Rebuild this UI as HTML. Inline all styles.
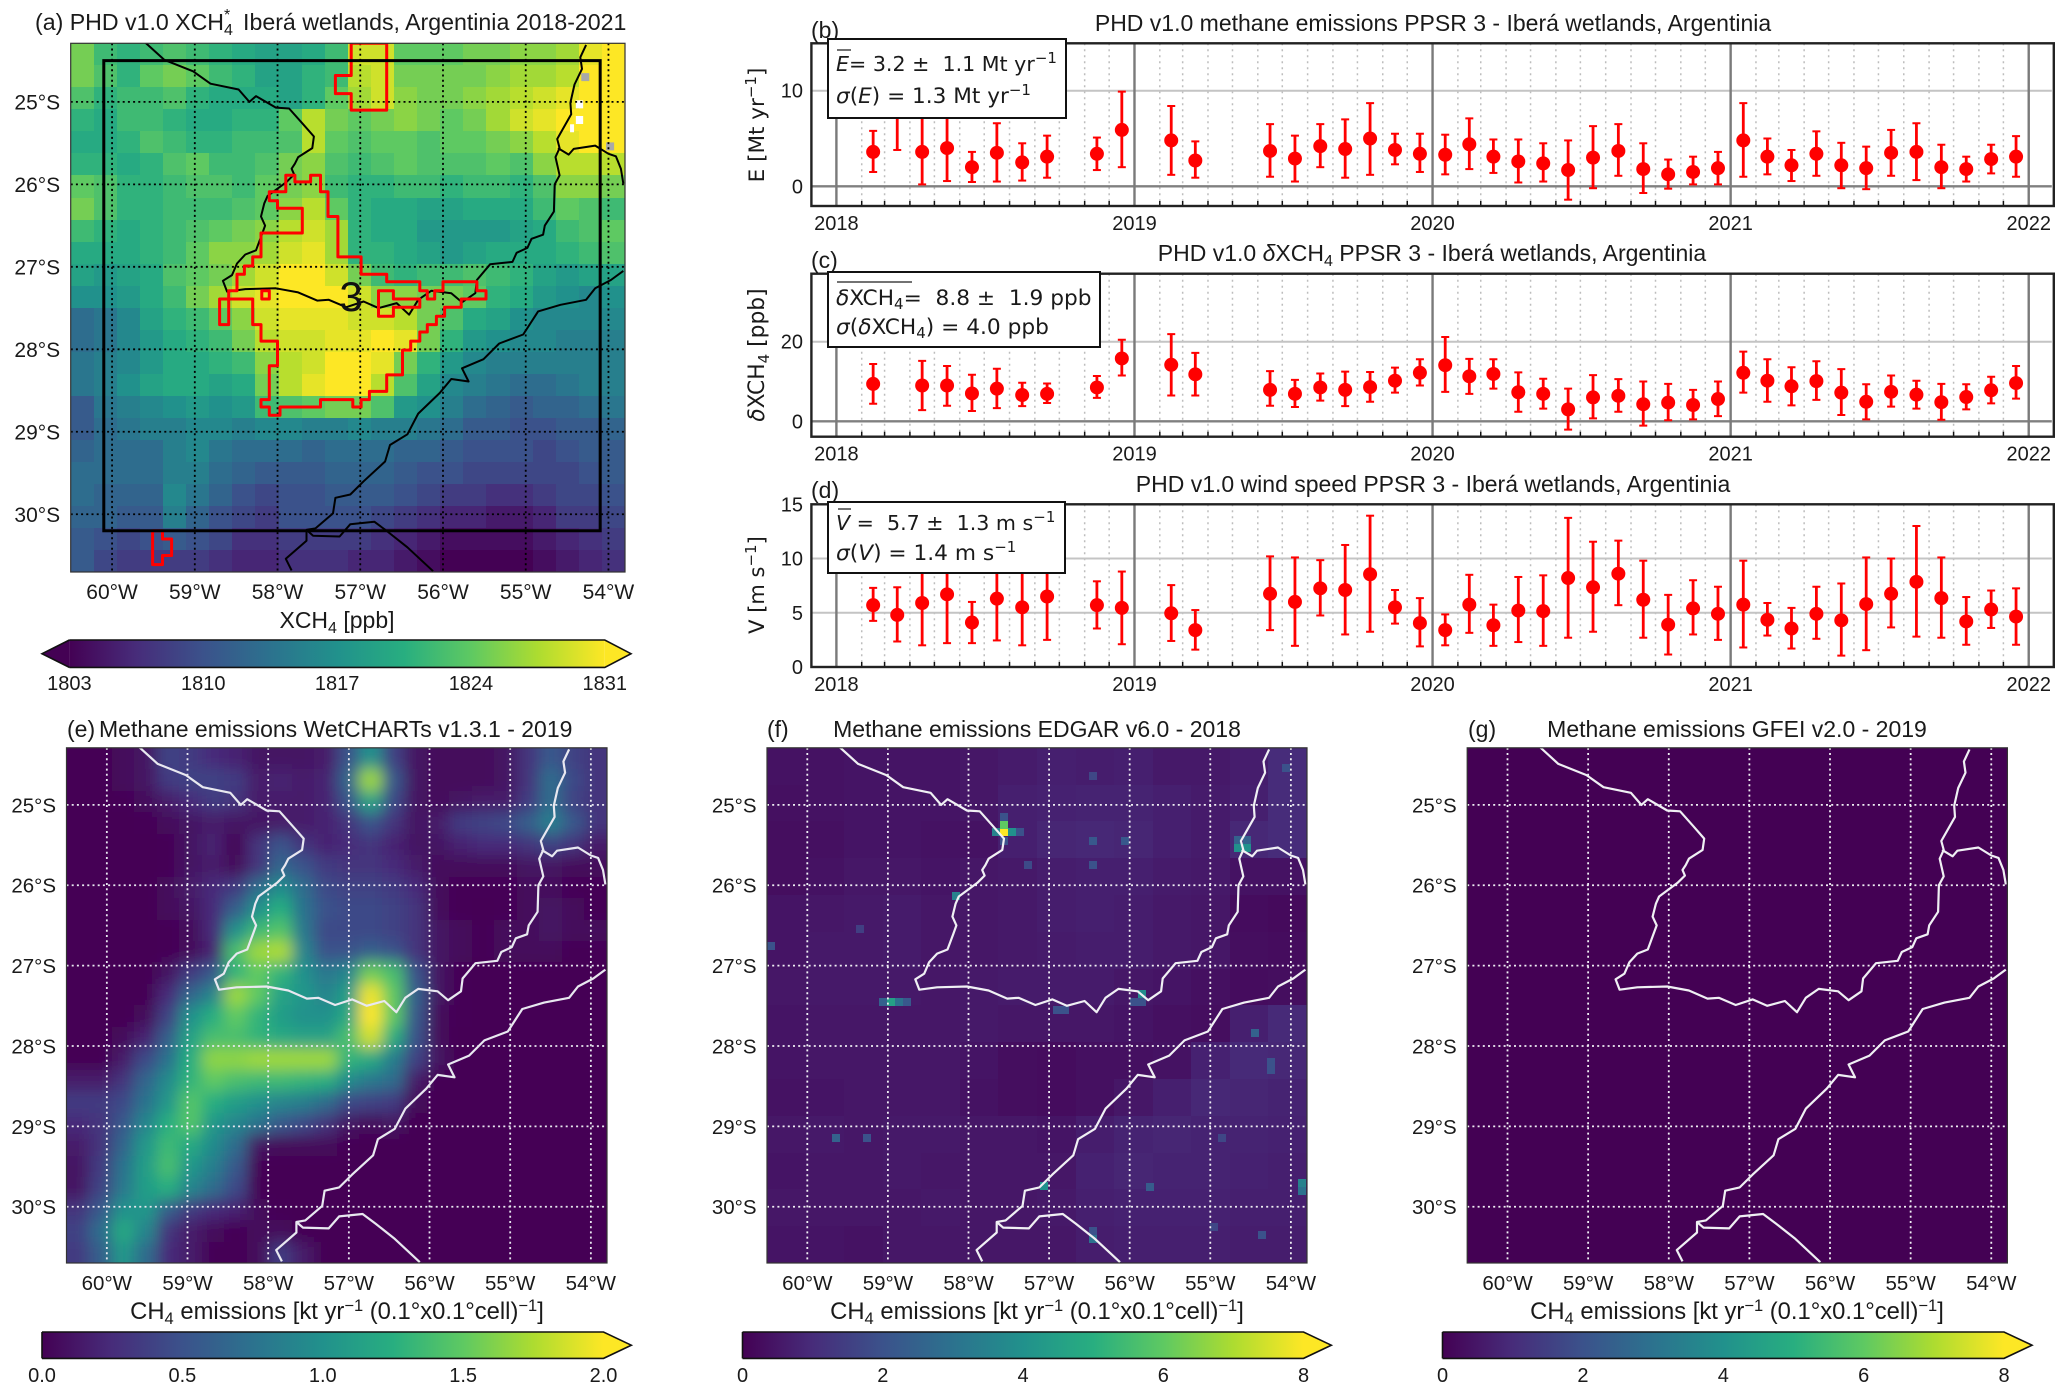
<!DOCTYPE html>
<html lang="en">
<head>
<meta charset="utf-8">
<title>PHD v1.0 methane, Iberá wetlands</title>
<style>
html,body{margin:0;padding:0;background:#fff}
svg{display:block}
text{font-family:"Liberation Sans",sans-serif;fill:#1a1a1a}
.dj,.dj text{font-family:"DejaVu Sans",sans-serif}
</style>
</head>
<body>
<svg id="fig" xmlns="http://www.w3.org/2000/svg" width="2067" height="1394" viewBox="0 0 2067 1394">
<defs>
<linearGradient id="viridis">
<stop offset="0" stop-color="#440154"/><stop offset=".125" stop-color="#472c7a"/><stop offset=".25" stop-color="#3b528b"/><stop offset=".375" stop-color="#2c728e"/><stop offset=".5" stop-color="#21918c"/><stop offset=".625" stop-color="#28ae80"/><stop offset=".75" stop-color="#5ec962"/><stop offset=".875" stop-color="#addc30"/><stop offset="1" stop-color="#fde725"/>
</linearGradient>
<filter id="soft" filterUnits="userSpaceOnUse" x="0" y="700" width="700" height="620"><feGaussianBlur stdDeviation="7.5"/></filter>
</defs>
<rect width="2067" height="1394" fill="#fff"/>

<g id="map-a"></g>
<g id="map-e"></g>
<g id="map-f"></g>
<g id="map-g"></g>
<g id="plot-b"></g>
<g id="plot-c"></g>
<g id="plot-d"></g>
<g id="cbars"></g>

<!-- Titles -->
<text x="35" y="30" font-size="23.15" xml:space="preserve">(a) PHD v1.0 XCH<tspan font-size="16" dy="5">4</tspan><tspan font-size="16" dx="-9" dy="-15">*</tspan><tspan dy="10">  Iberá wetlands, Argentinia 2018-2021</tspan></text>
<text x="1433" y="31" font-size="23" text-anchor="middle">PHD v1.0 methane emissions PPSR 3 - Iberá wetlands, Argentinia</text>
<text x="811" y="38" font-size="23">(b)</text>
<text x="1432" y="261" font-size="23" text-anchor="middle">PHD v1.0 <tspan font-style="italic">δ</tspan>XCH<tspan font-size="16" dy="5">4</tspan><tspan dy="-5"> PPSR 3 - Iberá wetlands, Argentinia</tspan></text>
<text x="811" y="268" font-size="23">(c)</text>
<text x="1433" y="492" font-size="23" text-anchor="middle">PHD v1.0 wind speed PPSR 3 - Iberá wetlands, Argentinia</text>
<text x="811" y="498" font-size="23">(d)</text>
<text x="67" y="737" font-size="23">(e)</text>
<text x="99" y="737" font-size="23">Methane emissions WetCHARTs v1.3.1 - 2019</text>
<text x="767" y="737" font-size="23">(f)</text>
<text x="1037" y="737" font-size="23" text-anchor="middle">Methane emissions EDGAR v6.0 - 2018</text>
<text x="1468" y="737" font-size="23">(g)</text>
<text x="1737" y="737" font-size="23" text-anchor="middle">Methane emissions GFEI v2.0 - 2019</text>

<!-- Axis labels -->
<text x="337" y="628" font-size="23" text-anchor="middle">XCH<tspan font-size="16" dy="5">4</tspan><tspan dy="-5"> [ppb]</tspan></text>
<text x="337" y="1319" font-size="23.8" text-anchor="middle">CH<tspan font-size="16.5" dy="5">4</tspan><tspan dy="-5"> emissions [kt yr</tspan><tspan font-size="16.5" dy="-8">−1</tspan><tspan dy="8"> (0.1°x0.1°cell)</tspan><tspan font-size="16.5" dy="-8">−1</tspan><tspan dy="8">]</tspan></text>
<text x="1037" y="1319" font-size="23.8" text-anchor="middle">CH<tspan font-size="16.5" dy="5">4</tspan><tspan dy="-5"> emissions [kt yr</tspan><tspan font-size="16.5" dy="-8">−1</tspan><tspan dy="8"> (0.1°x0.1°cell)</tspan><tspan font-size="16.5" dy="-8">−1</tspan><tspan dy="8">]</tspan></text>
<text x="1737" y="1319" font-size="23.8" text-anchor="middle">CH<tspan font-size="16.5" dy="5">4</tspan><tspan dy="-5"> emissions [kt yr</tspan><tspan font-size="16.5" dy="-8">−1</tspan><tspan dy="8"> (0.1°x0.1°cell)</tspan><tspan font-size="16.5" dy="-8">−1</tspan><tspan dy="8">]</tspan></text>
<g class="dj">
<text transform="translate(764,125) rotate(-90)" font-size="21.5" text-anchor="middle">E [Mt yr<tspan font-size="15" dy="-8">−1</tspan><tspan dy="8">]</tspan></text>
<text transform="translate(764,355) rotate(-90)" font-size="21.8" text-anchor="middle"><tspan font-style="italic">δ</tspan>XCH<tspan font-size="15" dy="5">4</tspan><tspan dy="-5"> [ppb]</tspan></text>
<text transform="translate(764,585) rotate(-90)" font-size="21" text-anchor="middle">V [m s<tspan font-size="15" dy="-8">−1</tspan><tspan dy="8">]</tspan></text>
</g>

<!-- Stat boxes -->
<g class="dj">
<rect x="828" y="39" width="238" height="79" fill="#fff" stroke="#111" stroke-width="2"/>
<line x1="837" x2="851" y1="50" y2="50" stroke="#444" stroke-width="1.5"/>
<text x="836" y="71" font-size="20.6" xml:space="preserve"><tspan font-style="italic">E</tspan>= 3.2 ±  1.1 Mt yr<tspan font-size="15" dy="-8">−1</tspan></text>
<text x="836" y="103" font-size="21.6"><tspan font-style="italic">σ</tspan>(<tspan font-style="italic">E</tspan>) = 1.3 Mt yr<tspan font-size="15" dy="-8">−1</tspan></text>
</g>
<g class="dj">
<rect x="828" y="272" width="272" height="75" fill="#fff" stroke="#111" stroke-width="2"/>
<line x1="837" x2="912" y1="282" y2="282" stroke="#444" stroke-width="1.5"/>
<text x="836" y="305" font-size="21.7" xml:space="preserve"><tspan font-style="italic">δ</tspan>XCH<tspan font-size="15" dy="4">4</tspan><tspan dy="-4">=  8.8 ±  1.9 ppb</tspan></text>
<text x="836" y="334" font-size="21.7"><tspan font-style="italic">σ</tspan>(<tspan font-style="italic">δ</tspan>XCH<tspan font-size="15" dy="4">4</tspan><tspan dy="-4">) = 4.0 ppb</tspan></text>
</g>
<g class="dj">
<rect x="828" y="502" width="237" height="71" fill="#fff" stroke="#111" stroke-width="2"/>
<line x1="838" x2="851" y1="509" y2="509" stroke="#444" stroke-width="1.5"/>
<text x="836" y="530" font-size="20.6" xml:space="preserve"><tspan font-style="italic">V</tspan> =  5.7 ±  1.3 m s<tspan font-size="15" dy="-8">−1</tspan></text>
<text x="836" y="560" font-size="21.7"><tspan font-style="italic">σ</tspan>(<tspan font-style="italic">V</tspan>) = 1.4 m s<tspan font-size="15" dy="-8">−1</tspan></text>
</g>

<script>
// ---------- Time-series data ----------
const monthIndex = [1,2,3,4,5,6,7,8,10,11,13,14,17,18,19,20,21,22,23,24,25,26,27,28,29,30,31,32,33,34,35,36,37,38,39,40,41,42,43,44,45,46,47];
const yearLabels = [2018,2019,2020,2021,2022];
const emissionMean = [3.6,8.7,3.6,4.0,2.0,3.5,2.5,3.1,3.4,5.9,4.8,2.7,3.7,2.9,4.2,3.9,5.0,3.8,3.4,3.3,4.4,3.1,2.6,2.4,1.7,3.0,3.7,1.8,1.25,1.5,1.9,4.8,3.1,2.2,3.4,2.2,1.9,3.5,3.6,2.0,1.8,2.85,3.1];
const emissionHigh = [5.8,12.3,7.5,8.0,3.6,6.6,4.5,5.3,5.1,9.9,8.4,4.7,6.5,5.3,6.5,7.0,8.7,5.5,5.5,5.4,7.1,4.9,4.9,4.5,4.8,6.3,6.5,4.5,2.8,3.1,3.6,8.7,5.0,3.8,5.75,4.55,4.15,5.9,6.6,4.35,3.1,4.35,5.25];
const emissionLow = [1.5,3.8,0.2,0.55,0.45,0.5,0.6,0.9,1.7,2.0,1.2,0.9,1.0,0.5,2.0,0.9,1.2,2.3,1.5,1.25,1.8,1.4,0.4,0.5,-1.4,-0.2,1.1,-0.7,-0.25,0.2,0.2,1.0,1.25,0.55,1.1,-0.2,-0.3,1.1,0.65,-0.2,0.5,1.35,1.0];
const deltaMean = [9.4,28,9.0,9.0,7.0,8.2,6.6,6.9,8.5,15.8,14.2,11.8,7.9,6.9,8.5,7.9,8.6,10.2,12.2,14.1,11.3,11.9,7.3,6.9,3.0,6.0,6.4,4.3,4.7,4.1,5.6,12.2,10.2,8.8,10.1,7.2,4.9,7.4,6.7,4.8,6.1,7.8,9.6];
const deltaHigh = [14.4,34,15.2,13.9,11.7,13.2,9.7,9.5,11.4,20.5,21.9,17.2,12.6,10.4,12,12.5,12.4,13.5,15.6,21.2,15.7,15.6,12.3,10.7,8.2,11.6,10.6,10,9.4,7.9,10,17.5,15.6,13.6,15.1,13.1,9.3,11.5,10.2,9.4,9.3,11.2,13.9];
const deltaLow = [4.4,22,2.8,3.9,2.6,3.3,3.8,4.6,5.9,11.5,6.5,6.5,3.9,3.6,5.2,3.8,4.9,7.2,9.0,7.4,6.9,8.2,2.4,3.2,-2.1,0.75,2.4,-1.1,0.25,0.5,1.3,7.2,4.9,4.0,5.4,1.6,0.5,3.7,3.2,0.4,3.0,4.5,5.7];
const windMean = [5.7,4.8,5.9,6.7,4.1,6.3,5.5,6.5,5.7,5.45,4.95,3.4,6.75,6.0,7.25,7.1,8.55,5.5,4.05,3.4,5.75,3.85,5.2,5.15,8.2,7.35,8.6,6.2,3.9,5.4,4.9,5.75,4.35,3.55,4.9,4.3,5.8,6.75,7.85,6.35,4.2,5.3,4.65];
const windHigh = [7.3,7.35,9.9,11.2,6.0,9.9,9.0,10.6,7.9,8.8,7.55,5.25,10.2,10.1,9.85,11.25,13.95,7.1,6.35,4.85,8.5,5.75,8.3,8.45,13.75,11.55,11.65,9.8,6.65,8.0,7.4,9.8,5.9,5.45,7.4,7.7,10.1,10.0,13,10.1,6.45,7.05,7.25];
const windLow = [4.25,2.35,2.0,2.2,2.2,2.45,2.0,2.5,3.55,2.1,2.4,1.6,3.4,1.95,4.75,3.0,3.25,4.0,1.9,2.0,3.15,1.95,2.3,1.95,2.7,3.25,5.7,2.7,1.15,3.0,2.5,1.8,2.9,1.7,2.6,1.05,1.55,3.65,2.8,2.7,2.05,3.6,2.05];
const emissionTicks = [0,10];
const deltaTicks = [0,20];
const windTicks = [0,5,10,15];

// ---------- Map data ----------
const lonTicks = [-60,-59,-58,-57,-56,-55,-54];
const latTicks = [-25,-26,-27,-28,-29,-30];
const xch4Grid = [
[1825,1822,1821,1822,1823,1822,1821,1820,1819,1819,1820,1822,1829,1829,1824,1824,1824,1825,1825,1826,1826,1827,1830,1831],
[1825,1823,1821,1824,1825,1824,1822,1821,1819,1819,1821,1822,1828,1829,1825,1825,1825,1825,1826,1827,1827,1828,1831,1831],
[1823,1821,1822,1822,1823,1821,1820,1820,1820,1819,1821,1824,1827,1829,1826,1825,1825,1826,1827,1828,1829,1830,1831,1831],
[1821,1820,1822,1822,1821,1820,1820,1821,1821,1824,1828,1825,1824,1825,1826,1825,1824,1825,1827,1829,1830,1831,1831,1831],
[1820,1820,1821,1823,1822,1821,1821,1822,1822,1823,1828,1824,1823,1824,1824,1823,1824,1824,1825,1826,1828,1830,1831,1831],
[1821,1821,1820,1821,1823,1824,1822,1822,1823,1825,1826,1823,1822,1823,1824,1823,1823,1823,1824,1823,1826,1828,1828,1828],
[1824,1823,1821,1821,1822,1823,1823,1822,1824,1825,1826,1822,1821,1821,1822,1822,1821,1822,1822,1821,1823,1826,1826,1825],
[1825,1823,1821,1821,1822,1822,1822,1823,1824,1826,1828,1824,1821,1820,1820,1819,1819,1820,1820,1820,1822,1824,1823,1822],
[1822,1821,1820,1821,1822,1823,1824,1825,1826,1828,1829,1827,1821,1820,1820,1818,1818,1818,1818,1819,1820,1822,1823,1824],
[1820,1820,1820,1821,1822,1824,1826,1826,1827,1829,1830,1827,1821,1821,1820,1819,1818,1819,1820,1820,1820,1821,1822,1823],
[1819,1818,1819,1820,1823,1824,1825,1827,1829,1831,1831,1829,1825,1822,1821,1822,1822,1823,1822,1821,1819,1818,1819,1819],
[1817,1817,1818,1820,1822,1825,1827,1829,1830,1831,1831,1831,1829,1826,1826,1825,1825,1824,1821,1820,1818,1817,1816,1817],
[1813,1814,1816,1819,1821,1822,1824,1826,1829,1830,1830,1830,1829,1829,1828,1825,1823,1820,1819,1817,1816,1816,1816,1816],
[1813,1814,1816,1818,1820,1821,1822,1825,1828,1829,1829,1830,1830,1831,1830,1825,1821,1818,1817,1816,1816,1815,1815,1815],
[1814,1815,1816,1818,1820,1820,1821,1822,1826,1828,1829,1831,1831,1830,1825,1821,1818,1816,1815,1815,1815,1815,1815,1815],
[1814,1815,1817,1819,1820,1820,1819,1820,1825,1828,1830,1831,1831,1828,1823,1819,1816,1815,1814,1813,1813,1814,1815,1815],
[1811,1814,1815,1816,1817,1818,1817,1818,1822,1823,1824,1825,1825,1823,1818,1817,1815,1813,1812,1811,1812,1812,1813,1814],
[1811,1813,1814,1815,1815,1816,1816,1815,1816,1816,1815,1815,1816,1815,1815,1814,1813,1811,1811,1810,1810,1811,1811,1812],
[1812,1813,1813,1813,1815,1816,1814,1813,1813,1813,1812,1813,1813,1813,1812,1812,1811,1810,1810,1810,1809,1810,1811,1811],
[1813,1813,1813,1813,1815,1815,1813,1812,1811,1811,1811,1812,1812,1812,1811,1810,1810,1809,1809,1809,1809,1809,1810,1811],
[1813,1812,1812,1812,1816,1814,1812,1810,1809,1810,1810,1811,1811,1811,1810,1809,1808,1808,1807,1807,1808,1809,1809,1810],
[1812,1812,1811,1811,1815,1812,1810,1809,1808,1810,1810,1810,1810,1809,1808,1807,1806,1806,1805,1805,1806,1808,1808,1809],
[1811,1810,1809,1810,1811,1810,1809,1807,1807,1808,1808,1808,1808,1807,1806,1805,1804,1804,1804,1804,1805,1806,1807,1808],
[1811,1809,1808,1808,1808,1808,1807,1806,1806,1807,1807,1807,1806,1806,1805,1804,1803,1803,1803,1803,1804,1805,1806,1807]];
const wetchartsGrid = [
[0,0,.05,.1,.4,.35,.25,.2,.1,.1,.1,.15,.5,1.0,.4,.1,.05,.05,.05,.1,.3,.55,.4,.3],
[0,0,.05,.1,.35,.4,.4,.35,.15,.2,.15,.2,.65,1.7,.55,.1,.05,.05,.05,.1,.3,.7,.45,.3],
[0,0,.02,.05,.15,.25,.35,.3,.15,.15,.15,.2,.5,1.15,.45,.1,.05,.1,.15,.15,.35,.7,.4,.3],
[0,0,0,.02,.05,.1,.15,.1,.1,.15,.15,.2,.3,.5,.3,.1,.15,.35,.4,.45,.6,.85,.55,.3],
[0,0,0,0,.02,.1,.2,.02,.3,.5,.3,.2,.25,.3,.2,.1,.1,.2,.25,.25,.3,.4,.3,.15],
[0,0,0,0,.02,.1,.15,.05,.3,.65,.5,.35,.3,.3,.25,.15,.05,.05,.05,.05,.1,.1,.05,.05],
[0,0,0,0,.05,.15,.25,.35,.7,.95,.7,.45,.4,.4,.35,.25,.05,.02,.02,.02,.05,.05,.02,.02],
[0,0,0,0,.05,.1,.25,.6,1.0,1.25,.75,.5,.45,.45,.4,.3,.05,.02,0,.02,.05,.1,.05,.02],
[0,0,0,0,.02,.05,.25,1.0,1.35,1.45,.8,.45,.45,.45,.4,.3,.1,.05,.02,.05,.05,.1,.05,.05],
[0,0,0,0,.02,.05,.2,1.4,1.7,1.75,.9,.5,.5,.6,.5,.3,.1,.05,.02,.05,.05,.05,.02,.02],
[0,0,0,0,.1,.35,.55,1.3,1.5,1.3,1.0,.8,.9,1.55,1.4,.5,.1,.02,0,0,0,0,0,0],
[0,0,0,0,.25,.65,.9,1.7,1.5,1.15,1.05,.9,1.1,1.95,1.5,.6,.1,.02,0,0,0,0,0,0],
[0,0,0,.05,.4,1.0,1.25,1.5,1.3,1.1,1.0,1.0,1.2,2.0,1.5,.55,.05,.02,0,0,0,0,0,0],
[0,0,.05,.2,.6,1.15,1.4,1.4,1.3,1.2,1.15,1.15,1.4,1.85,1.25,.5,.05,0,0,0,0,0,0,0],
[0,0,.15,.45,.75,1.25,1.65,1.65,1.7,1.7,1.7,1.7,1.3,1.2,.85,.4,.1,0,0,0,0,0,0,0],
[.15,.15,.3,.65,.95,1.3,1.5,1.4,1.35,1.35,1.3,1.25,.95,.8,.7,.15,0,0,0,0,0,0,0,0],
[.35,.35,.45,.75,1.05,1.45,1.25,1.1,1.0,.9,.85,.7,.45,.4,.35,.05,0,0,0,0,0,0,0,0],
[.25,.3,.55,.9,1.25,1.45,1.05,.9,.75,.55,.45,.3,.1,.05,.1,0,0,0,0,0,0,0,0,0],
[.15,.3,.65,1.05,1.35,1.2,.95,.7,.1,.05,.05,.05,.02,0,0,0,0,0,0,0,0,0,0,0],
[.1,.35,.75,1.1,1.4,1.05,.85,.55,.02,0,0,0,0,0,0,0,0,0,0,0,0,0,0,0],
[.1,.4,.8,1.1,1.25,.9,.7,.45,.02,0,0,0,0,0,0,0,0,0,0,0,0,0,0,0],
[.3,.55,1.0,1.05,.6,.35,.25,.2,.05,.02,0,0,0,0,0,0,0,0,0,0,0,0,0,0],
[.4,.7,1.2,.9,.3,.15,.05,.02,.05,.05,0,0,0,0,0,0,0,0,0,0,0,0,0,0],
[.35,.6,1.05,.7,.25,.15,.02,.02,.05,.35,.15,0,0,0,0,0,0,0,0,0,0,0,0,0]];
const edgarGrid = [
[.4,.4,.45,.45,.45,.5,.6,.7,.65,.7,.55,.55,.65,1.0],
[.35,.4,.45,.45,.45,.5,.7,.75,.8,.8,.7,.6,.7,1.0],
[.3,.35,.45,.45,.4,.4,.7,.85,.9,.85,.7,.6,.9,1.0],
[.3,.4,.5,.5,.45,.5,.55,.65,.7,.7,.6,.55,.4,.4],
[.45,.5,.55,.6,.5,.5,.55,.65,.7,.65,.55,.5,.25,.2],
[.45,.55,.55,.6,.5,.5,.55,.6,.65,.65,.55,.5,.3,.25],
[.5,.55,.55,.55,.5,.55,.6,.6,.6,.5,.45,.35,.25,.3],
[.45,.5,.5,.5,.5,.55,.5,.5,.5,.45,.35,.3,.7,.95],
[.45,.5,.5,.5,.5,.45,.3,.25,.35,.35,.4,.75,.95,.9],
[.4,.45,.5,.5,.5,.4,.3,.25,.35,.5,.7,.9,.85,.8],
[.5,.55,.5,.55,.55,.5,.5,.45,.65,.8,.85,.8,.8,.75],
[.45,.5,.5,.55,.5,.5,.5,.5,.75,.85,.8,.8,.75,.7],
[.5,.5,.5,.5,.55,.5,.5,.55,.7,.75,.75,.75,.7,.7],
[.45,.45,.4,.5,.5,.5,.5,.5,.65,.7,.7,.7,.65,.65]];
const edgarHotLon = [-57.56,-57.56,-57.66,-57.46,-57.36,-57.56,-57.56,-54.65,-54.55,-54.65,-54.55,-58.16,-58.96,-59.06,-58.86,-58.76,-55.85,-55.95,-55.85,-56.9,-56.8,-57.06,-56.46,-56.46,-53.86,-53.86,-59.65,-59.26,-55.75,-54.45,-54.25,-54.25,-54.06,-56.46,-56.46,-56.06,-56.46,-57.26,-60.45,-59.35,-54.36,-54.96,-54.86];
const edgarHotLat = [-25.34,-25.25,-25.34,-25.34,-25.34,-25.15,-25.45,-25.54,-25.54,-25.44,-25.44,-26.14,-27.45,-27.45,-27.45,-27.45,-27.35,-27.45,-27.45,-27.55,-27.55,-29.74,-30.40,-30.30,-29.70,-29.80,-29.15,-29.15,-29.75,-27.84,-28.30,-28.20,-24.54,-24.64,-25.45,-25.45,-25.75,-25.75,-26.76,-26.55,-30.35,-30.25,-29.15];
const edgarHotValue = [8,6,3.5,4,2,2,2,4,4,2.5,2.5,3.5,4.5,2.5,3,2.2,3.8,2,2,2,2,4,3,2,3.5,3,2.5,2,2.3,2.5,2,2,2,1.7,2.2,2.2,2,1.8,2,1.5,2,1.7,1.7];
const gfeiGrid = [[0,0,0,0],[0,0,0,0],[0,0,0,0],[0,0,0,0]];
const riverParaguayParana = [[-59.60,-24.28],[-59.37,-24.49],[-59.02,-24.63],[-58.81,-24.78],[-58.47,-24.85],[-58.34,-25.0],[-58.26,-24.93],[-58.02,-25.07],[-57.86,-25.08],[-57.70,-25.26],[-57.56,-25.42],[-57.58,-25.56],[-57.75,-25.67],[-57.79,-25.75],[-57.83,-25.81],[-57.80,-25.88],[-57.89,-25.97],[-58.12,-26.14],[-58.16,-26.23],[-58.20,-26.39],[-58.15,-26.50],[-58.19,-26.61],[-58.26,-26.80],[-58.39,-26.85],[-58.49,-26.96],[-58.55,-27.10],[-58.66,-27.17],[-58.61,-27.30],[-58.39,-27.27],[-58.02,-27.26],[-57.75,-27.31],[-57.52,-27.41],[-57.38,-27.40],[-57.17,-27.49],[-56.96,-27.42],[-56.78,-27.50],[-56.56,-27.44],[-56.41,-27.58],[-56.30,-27.40],[-56.14,-27.29],[-55.90,-27.32],[-55.77,-27.43],[-55.61,-27.32],[-55.59,-27.16],[-55.43,-26.97],[-55.16,-26.94],[-55.11,-26.83],[-54.98,-26.77],[-54.93,-26.66],[-54.79,-26.61],[-54.77,-26.50],[-54.66,-26.33],[-54.65,-26.00],[-54.59,-25.89],[-54.64,-25.67],[-54.59,-25.56],[-54.62,-25.45],[-54.45,-25.15],[-54.46,-25.01],[-54.41,-24.79],[-54.32,-24.60],[-54.34,-24.46],[-54.27,-24.31]];
const riverIguazu = [[-54.61,-25.56],[-54.48,-25.64],[-54.42,-25.57],[-54.16,-25.53],[-54.0,-25.63],[-53.91,-25.66],[-53.85,-25.81],[-53.82,-25.99]];
const riverUruguay = [[-57.83,-30.68],[-57.90,-30.54],[-57.65,-30.32],[-57.65,-30.19],[-57.54,-30.17],[-57.33,-29.99],[-57.30,-29.80],[-57.12,-29.76],[-56.96,-29.60],[-56.70,-29.36],[-56.64,-29.16],[-56.43,-29.03],[-56.30,-28.78],[-56.04,-28.53],[-55.90,-28.36],[-55.69,-28.39],[-55.77,-28.23],[-55.51,-28.12],[-55.32,-27.93],[-55.03,-27.82],[-54.85,-27.54],[-54.58,-27.46],[-54.27,-27.40],[-54.16,-27.26],[-53.97,-27.16],[-53.82,-27.05]];
const borderSouth = [[-57.65,-30.19],[-57.57,-30.26],[-57.25,-30.27],[-57.12,-30.12],[-56.83,-30.09],[-56.67,-30.21],[-56.43,-30.40],[-56.12,-30.69]];
const ppsrMain = [[-57.90,-25.89],[-57.79,-25.89],[-57.79,-25.97],[-57.60,-25.97],[-57.60,-25.89],[-57.48,-25.89],[-57.48,-26.09],[-57.39,-26.09],[-57.39,-26.39],[-57.27,-26.39],[-57.27,-26.88],[-56.99,-26.88],[-56.99,-27.09],[-56.68,-27.09],[-56.68,-27.18],[-56.28,-27.18],[-56.28,-27.29],[-56.19,-27.29],[-56.19,-27.39],[-56.10,-27.39],[-56.10,-27.29],[-56.00,-27.29],[-56.00,-27.18],[-55.59,-27.18],[-55.59,-27.29],[-55.48,-27.29],[-55.48,-27.39],[-55.78,-27.39],[-55.78,-27.49],[-55.98,-27.49],[-55.98,-27.60],[-56.08,-27.60],[-56.08,-27.70],[-56.19,-27.70],[-56.19,-27.79],[-56.28,-27.79],[-56.28,-27.90],[-56.39,-27.90],[-56.39,-28.01],[-56.49,-28.01],[-56.49,-28.31],[-56.68,-28.31],[-56.68,-28.51],[-56.89,-28.51],[-56.89,-28.61],[-56.99,-28.61],[-56.99,-28.70],[-57.09,-28.70],[-57.09,-28.61],[-57.48,-28.61],[-57.48,-28.70],[-57.97,-28.70],[-57.97,-28.80],[-58.10,-28.80],[-58.10,-28.70],[-58.20,-28.70],[-58.20,-28.61],[-58.10,-28.61],[-58.10,-28.20],[-58.00,-28.20],[-58.00,-27.90],[-58.20,-27.90],[-58.20,-27.70],[-58.30,-27.70],[-58.30,-27.39],[-58.59,-27.39],[-58.59,-27.70],[-58.70,-27.70],[-58.70,-27.39],[-58.59,-27.39],[-58.59,-27.29],[-58.49,-27.29],[-58.49,-27.09],[-58.40,-27.09],[-58.40,-26.99],[-58.30,-26.99],[-58.30,-26.88],[-58.20,-26.88],[-58.20,-26.59],[-57.70,-26.59],[-57.70,-26.29],[-58.00,-26.29],[-58.00,-26.20],[-58.10,-26.20],[-58.10,-26.09],[-57.90,-26.09]];
const ppsrHole = [[-56.78,-27.29],[-56.60,-27.29],[-56.60,-27.39],[-56.28,-27.39],[-56.28,-27.49],[-56.60,-27.49],[-56.60,-27.60],[-56.78,-27.60]];
const ppsrSmall = [[-58.19,-27.29],[-58.10,-27.29],[-58.10,-27.39],[-58.19,-27.39]];
const ppsrNorth = [[-57.11,-24.29],[-57.11,-24.68],[-57.30,-24.68],[-57.30,-24.90],[-57.11,-24.90],[-57.11,-25.10],[-56.68,-25.10],[-56.68,-24.29]];
const ppsrSouth = [[-59.51,-30.20],[-59.51,-30.61],[-59.39,-30.61],[-59.39,-30.50],[-59.28,-30.50],[-59.28,-30.30],[-59.39,-30.30],[-59.39,-30.20]];
const missingCellLon = [-54.28,-53.98];
const missingCellLat = [-24.70,-25.54];
const blankCellLon = [-54.37,-54.33,-54.37,-54.33,-54.44];
const blankCellLat = [-25.03,-25.03,-25.22,-25.22,-25.32];
const studyBox = [-60.1,-54.1,-24.5,-30.2];
const cbarLabelsA = [1803,1810,1817,1824,1831];
const cbarLabelsE = ['0.0','0.5','1.0','1.5','2.0'];
const cbarLabelsF = ['0','2','4','6','8'];
const cbarLabelsG = ['0','2','4','6','8'];

// ---------- Helpers ----------
const NS = 'http://www.w3.org/2000/svg';
function mk(tag, attrs, parent){
  const el = document.createElementNS(NS, tag);
  for(const k in attrs) el.setAttribute(k, attrs[k]);
  parent.appendChild(el);
  return el;
}
const VIR = [[68,1,84],[71,44,122],[59,82,139],[44,114,142],[33,145,140],[40,174,128],[94,201,98],[173,220,48],[253,231,37]];
function viridis(t){
  t = Math.max(0, Math.min(1, t)) * 8;
  const i = Math.min(7, Math.floor(t)), f = t - i;
  const c = VIR[i].map((v, j) => Math.round(v + (VIR[i + 1][j] - v) * f));
  return 'rgb(' + c.join(',') + ')';
}

// ---------- Maps ----------
const LON0 = -60.5, LON1 = -53.8, LAT0 = -24.29, LAT1 = -30.7;
function mapScales(box){
  return {
    x: lon => box.left + (lon - LON0) / (LON1 - LON0) * (box.right - box.left),
    y: lat => box.top + (lat - LAT0) / (LAT1 - LAT0) * (box.bottom - box.top)
  };
}
function drawGrid(parent, box, grid, vmin, vmax, pad){
  const rows = grid.length, cols = grid[0].length;
  const w = box.right - box.left, h = box.bottom - box.top;
  grid.forEach((row, r) => row.forEach((v, c) => {
    let x0 = Math.round(box.left + c / cols * w), x1 = Math.round(box.left + (c + 1) / cols * w);
    let y0 = Math.round(box.top + r / rows * h), y1 = Math.round(box.top + (r + 1) / rows * h);
    if(pad){ if(c === 0) x0 -= pad; if(c === cols - 1) x1 += pad; if(r === 0) y0 -= pad; if(r === rows - 1) y1 += pad; }
    const cell = mk('rect', {x: x0, y: y0, width: x1 - x0, height: y1 - y0, fill: viridis((v - vmin) / (vmax - vmin)), 'shape-rendering': 'crispEdges'}, parent);
    
    
  }));
}
function polyPath(pts, s, close){
  return pts.map((p, i) => (i ? 'L' : 'M') + s.x(p[0]).toFixed(1) + ' ' + s.y(p[1]).toFixed(1)).join('') + (close ? 'Z' : '');
}
function drawOverlay(g, box, s, color, rw, clipId){
  const lay = mk('g', {'clip-path': 'url(#' + clipId + ')'}, g);
  
  
  [riverParaguayParana, riverIguazu, riverUruguay, borderSouth].forEach(pts => {
    const p = mk('path', {d: polyPath(pts, s, false), fill: 'none', stroke: color, 'stroke-width': rw, 'stroke-linejoin': 'round'}, lay);
    
    
  });
  lonTicks.forEach(lon => {
    const l = mk('line', {x1: s.x(lon), x2: s.x(lon), y1: box.top, y2: box.bottom, stroke: color, 'stroke-width': 1.8, 'stroke-dasharray': '2 3.2'}, lay);
    
    
  });
  latTicks.forEach(lat => {
    const l = mk('line', {x1: box.left, x2: box.right, y1: s.y(lat), y2: s.y(lat), stroke: color, 'stroke-width': 1.8, 'stroke-dasharray': '2 3.2'}, lay);
    
    
  });
  return lay;
}
function drawFrameAndTicks(g, box, s, frameColor, fs){
  const fr = mk('rect', {x: box.left, y: box.top, width: box.right - box.left, height: box.bottom - box.top, fill: 'none', stroke: frameColor, 'stroke-width': 1.2}, g);
  
  
  lonTicks.forEach(lon => {
    const t = mk('text', {x: s.x(lon), y: box.bottom + 27, 'text-anchor': 'middle', 'font-size': fs}, g);
    
    
    t.textContent = Math.abs(lon) + '°W';
  });
  latTicks.forEach(lat => {
    const t = mk('text', {x: box.left - 10.5, y: s.y(lat) + 7.5, 'text-anchor': 'end', 'font-size': fs}, g);
    
    
    t.textContent = Math.abs(lat) + '°S';
  });
}
function addClip(id, box){
  const defs = document.querySelector('#fig defs');
  const cp = mk('clipPath', {id: id}, defs);
  mk('rect', {x: box.left, y: box.top, width: box.right - box.left, height: box.bottom - box.top}, cp);
}

// Panel a
(function(){
  const box = {left: 70.7, right: 625, top: 43.3, bottom: 572};
  const s = mapScales(box);
  const g = document.getElementById('map-a');
  addClip('clip-a', box);
  drawGrid(g, box, xch4Grid, 1803, 1831, 0);
  missingCellLon.forEach((lon, i) => {
    const m = mk('rect', {x: s.x(lon) - 4, y: s.y(missingCellLat[i]) - 4, width: 8, height: 8, fill: '#a9a9a9'}, g);
    
    
  });
  blankCellLon.forEach((lon, i) => {
    const m = mk('rect', {x: s.x(lon) - 2, y: s.y(blankCellLat[i]) - 4, width: 4, height: 8, fill: '#ffffff'}, g);
    
    
  });
  const lay = drawOverlay(g, box, s, '#000', 2, 'clip-a');
  [ppsrMain, ppsrHole, ppsrSmall, ppsrNorth, ppsrSouth].forEach(pts => {
    const p = mk('path', {d: polyPath(pts, s, true), fill: 'none', stroke: '#ff0000', 'stroke-width': 3, 'stroke-linejoin': 'round'}, lay);
    
    
  });
  const b = mk('rect', {x: s.x(studyBox[0]), y: s.y(studyBox[2]), width: s.x(studyBox[1]) - s.x(studyBox[0]), height: s.y(studyBox[3]) - s.y(studyBox[2]), fill: 'none', stroke: '#000', 'stroke-width': 3}, g);
  
  
  const three = mk('text', {x: 351, y: 311, 'text-anchor': 'middle', 'font-size': 42, style: 'fill:#111'}, g);
  
  
  three.textContent = '3';
  drawFrameAndTicks(g, box, s, '#333', 21);
})();

// Panel e
(function(){
  const box = {left: 66.5, right: 607, top: 747.8, bottom: 1263};
  const s = mapScales(box);
  const g = document.getElementById('map-e');
  addClip('clip-e', box);
  const clip = mk('g', {'clip-path': 'url(#clip-e)'}, g);
  
  
  const soft = mk('g', {filter: 'url(#soft)'}, clip);
  
  
  drawGrid(soft, box, wetchartsGrid, 0, 2, 30);
  drawOverlay(g, box, s, '#e8e8f0', 2.2, 'clip-e');
  drawFrameAndTicks(g, box, s, '#333', 20.5);
})();

// Panel f
(function(){
  const box = {left: 767, right: 1307, top: 747.8, bottom: 1263};
  const s = mapScales(box);
  const g = document.getElementById('map-f');
  addClip('clip-f', box);
  drawGrid(g, box, edgarGrid, 0, 8, 0);
  edgarHotLon.forEach((lon, i) => {
    const c = mk('rect', {x: Math.round(s.x(lon) - 4), y: Math.round(s.y(edgarHotLat[i]) - 4), width: 8, height: 8, fill: viridis(edgarHotValue[i] / 8), 'shape-rendering': 'crispEdges'}, g);
    
    
  });
  drawOverlay(g, box, s, '#f0f0f4', 2.2, 'clip-f');
  drawFrameAndTicks(g, box, s, '#333', 20.5);
})();

// Panel g
(function(){
  const box = {left: 1467.2, right: 2007.4, top: 747.8, bottom: 1263};
  const s = mapScales(box);
  const g = document.getElementById('map-g');
  addClip('clip-g', box);
  drawGrid(g, box, gfeiGrid, 0, 8, 0);
  drawOverlay(g, box, s, '#f0f0f4', 2.2, 'clip-g');
  drawFrameAndTicks(g, box, s, '#333', 20.5);
})();

// ---------- Colorbars ----------
function colorbar(name, x0, x1, tipR, tipL, y0, y1, labels, labelY){
  const root = document.getElementById('cbars');
  const g = mk('g', {}, root);
  
  
  const ym = (y0 + y1) / 2;
  const right = mk('polygon', {points: x1 + ',' + y0 + ' ' + tipR + ',' + ym + ' ' + x1 + ',' + y1, fill: '#fde725'}, g);
  
  
  if(tipL !== null){
    const left = mk('polygon', {points: x0 + ',' + y0 + ' ' + tipL + ',' + ym + ' ' + x0 + ',' + y1, fill: '#440154'}, g);
    
    
  }
  const bar = mk('rect', {x: x0, y: y0, width: x1 - x0, height: y1 - y0, fill: 'url(#viridis)'}, g);
  
  
  const leftEnd = tipL !== null ? ('M' + x0 + ' ' + y0 + 'L' + tipL + ' ' + ym + 'L' + x0 + ' ' + y1) : ('M' + x0 + ' ' + y1 + 'L' + x0 + ' ' + y0);
  const d = leftEnd + 'M' + x0 + ' ' + y0 + 'L' + x1 + ' ' + y0 + 'L' + tipR + ' ' + ym + 'L' + x1 + ' ' + y1 + 'L' + x0 + ' ' + y1;
  const outline = mk('path', {d: d, fill: 'none', stroke: '#111', 'stroke-width': 1.6}, g);
  
  
  labels.forEach((lab, i) => {
    const t = mk('text', {x: x0 + (x1 - x0) * i / (labels.length - 1), y: labelY, 'text-anchor': 'middle', 'font-size': 20}, g);
    
    
    t.textContent = lab;
  });
}
colorbar('colorbar-a', 69.4, 604.8, 631, 42, 640, 667.4, cbarLabelsA, 690);
colorbar('colorbar-e', 42, 603.5, 631.3, null, 1332, 1358.4, cbarLabelsE, 1382);
colorbar('colorbar-f', 742.5, 1303.5, 1331.3, null, 1332, 1358.4, cbarLabelsF, 1382);
colorbar('colorbar-g', 1442.5, 2004, 2032, null, 1332, 1358.4, cbarLabelsG, 1382);

// ---------- Time-series ----------
const AX = {left: 811.4, right: 2053.8, x2018: 836.4, yearPx: 298.08};
const CUM = [0,31,59,90,120,151,181,212,243,273,304,334,365];
function xYear(y){ return AX.x2018 + (y - 2018) * AX.yearPx; }
function xMonthStart(idx){
  const y = Math.floor(idx / 12), m = idx - y * 12;
  return xYear(2018 + y + CUM[m] / 365);
}
function xMonthMid(idx){ return (xMonthStart(idx) + xMonthStart(idx + 1)) / 2; }

function drawSeries(id, cfg){
  const g = document.getElementById(id);
  const Y = v => cfg.bottom - (v - cfg.ymin) / (cfg.ymax - cfg.ymin) * (cfg.bottom - cfg.top);
  const clipId = id + '-clip';
  addClip(clipId, {left: AX.left, right: AX.right, top: cfg.top, bottom: cfg.bottom});
  for(let i = 0; i <= 47; i++){
    if(i % 12 === 0) continue;
    const xm = xMonthStart(i);
    const d = mk('line', {x1: xm, x2: xm, y1: cfg.top, y2: cfg.bottom, stroke: '#bdbdbd', 'stroke-width': 1.5, 'stroke-dasharray': '2 4'}, g);
    
    
    const tk = mk('line', {x1: xm, x2: xm, y1: cfg.bottom - 5, y2: cfg.bottom, stroke: '#111', 'stroke-width': 1.5}, g);
    
    
  }
  cfg.ticks.forEach(v => {
    if(v !== cfg.ymin && v !== cfg.ymax){
      const gl = mk('line', {x1: AX.left, x2: AX.right - 2, y1: Y(v), y2: Y(v), stroke: v === 0 ? '#808080' : '#c4c4c4', 'stroke-width': v === 0 ? 2.4 : 2}, g);
      
      
    }
    const t = mk('text', {x: 803, y: Y(v) + 7, 'text-anchor': 'end', 'font-size': 20}, g);
    
    
    t.textContent = v;
  });
  yearLabels.forEach(yr => {
    const xv = xYear(yr);
    const gl = mk('line', {x1: xv, x2: xv, y1: cfg.top, y2: cfg.bottom, stroke: '#7a7a7a', 'stroke-width': 2.4}, g);
    
    
    const t = mk('text', {x: xv, y: cfg.bottom + 24, 'text-anchor': 'middle', 'font-size': 20}, g);
    
    
    t.textContent = yr;
  });
  const marks = mk('g', {'clip-path': 'url(#' + clipId + ')'}, g);
  
  
  monthIndex.forEach((mi, i) => {
    const px = xMonthMid(mi);
    const bar = mk('line', {x1: px, x2: px, y1: Y(cfg.high[i]), y2: Y(cfg.low[i]), stroke: '#ff0000', 'stroke-width': 2.8}, marks);
    
    
    [cfg.high[i], cfg.low[i]].forEach(v => {
      const cap = mk('line', {x1: px - 4, x2: px + 4, y1: Y(v), y2: Y(v), stroke: '#ff0000', 'stroke-width': 2}, marks);
      
      
    });
    const dot = mk('circle', {cx: px, cy: Y(cfg.mean[i]), r: 7, fill: '#ff0000'}, marks);
    
    
  });
  const fr = mk('rect', {x: AX.left, y: cfg.top, width: AX.right - AX.left, height: cfg.bottom - cfg.top, fill: 'none', stroke: '#222', 'stroke-width': 2.4}, g);
  
  
}
drawSeries('plot-b', {top: 43.3, bottom: 206, ymin: -2.06, ymax: 14.96, ticks: emissionTicks, mean: emissionMean, high: emissionHigh, low: emissionLow});
drawSeries('plot-c', {top: 273.7, bottom: 436.7, ymin: -3.87, ymax: 37.1, ticks: deltaTicks, mean: deltaMean, high: deltaHigh, low: deltaLow});
drawSeries('plot-d', {top: 504.3, bottom: 667, ymin: 0, ymax: 15, ticks: windTicks, mean: windMean, high: windHigh, low: windLow});
</script>
</svg>
</body>
</html>
